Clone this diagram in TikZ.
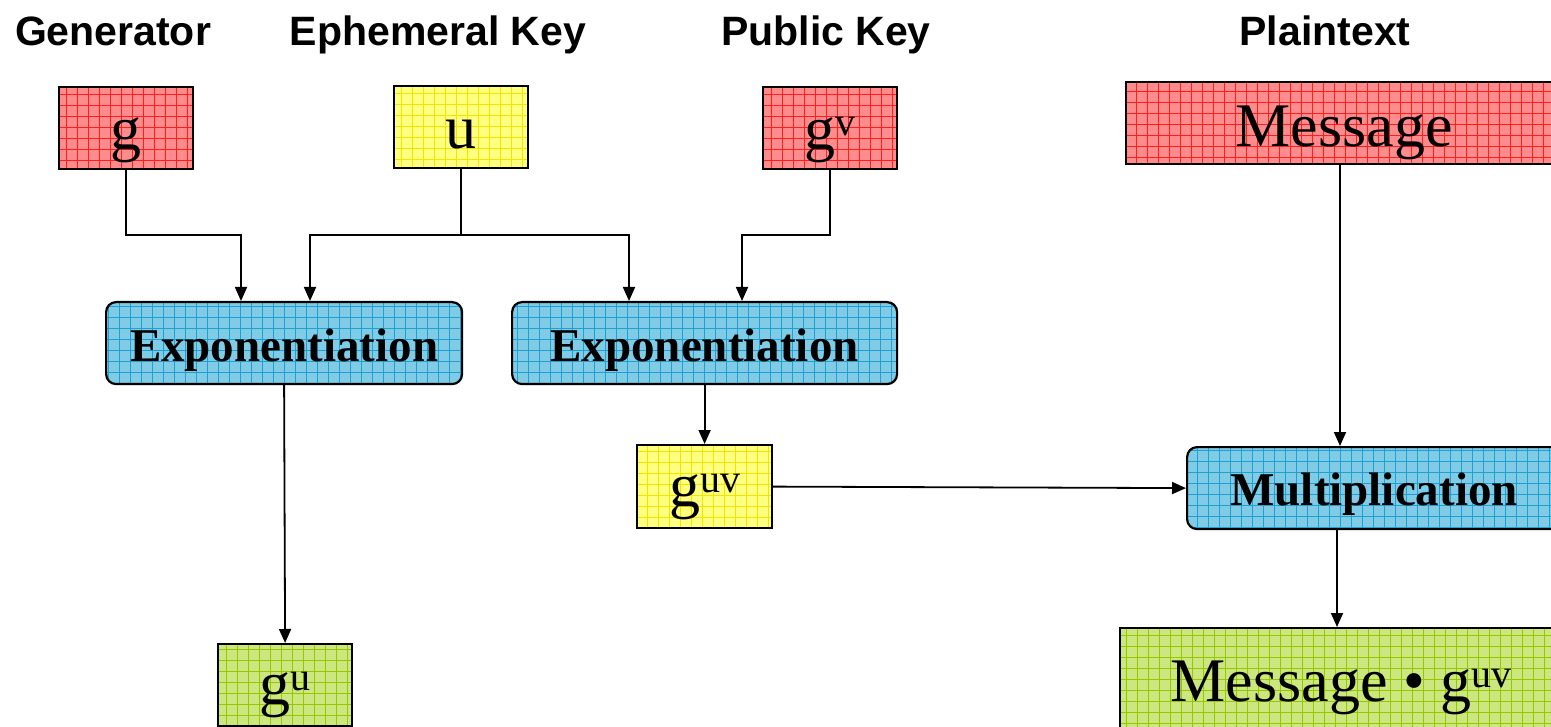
\documentclass[tikz,border=0pt]{standalone}
\usepackage{fontspec}
\setmainfont{Liberation Serif}
\newfontfamily\headfont{Liberation Sans}
\usetikzlibrary{arrows.meta}

% box colours: fill and grid lines
\definecolor{redfill}{RGB}{255,140,140}
\definecolor{redgrid}{RGB}{255,30,30}
\definecolor{yelfill}{RGB}{255,255,128}
\definecolor{yelgrid}{RGB}{240,230,0}
\definecolor{bluefill}{RGB}{128,204,230}
\definecolor{bluegrid}{RGB}{30,160,210}
\definecolor{grnfill}{RGB}{204,230,128}
\definecolor{grngrid}{RGB}{150,200,0}

% raised exponent
\newcommand\upidx[1]{\raisebox{14pt}{\fontsize{40}{40}\selectfont #1}}

\tikzset{
  gridbox/.style 2 args={fill=#1,
    path picture={\draw[#2, line width=0.8pt, step=11pt]
      (path picture bounding box.south west) grid (path picture bounding box.north east);}},
  basebox/.style={draw=black, line width=2.2pt, inner sep=0pt, anchor=north west},
  bigtext/.style={font=\fontsize{62}{62}\selectfont},
  optext/.style={font=\fontsize{47}{47}\selectfont\bfseries},
  redbox/.style={basebox, bigtext, gridbox={redfill}{redgrid}},
  yelbox/.style={basebox, bigtext, gridbox={yelfill}{yelgrid}},
  grnbox/.style={basebox, bigtext, gridbox={grnfill}{grngrid}},
  opbox/.style={basebox, optext, rounded corners=10pt, gridbox={bluefill}{bluegrid}},
  head/.style={font=\headfont\fontsize{41}{41}\selectfont\bfseries, anchor=base, inner sep=0pt},
  arr/.style={draw=black, line width=1.8pt, -{Triangle[length=14pt,width=12pt]}},
  wire/.style={draw=black, line width=1.8pt}
}

\begin{document}
\begin{tikzpicture}[x=1pt, y=-1pt]
  \path[use as bounding box] (0,0) rectangle (1551,727);
  \clip (0,0) rectangle (1551,727);

  % column headings
  \node[head] (hgen) at (113,46) {Generator};
  \node[head] (heph) at (438,46) {Ephemeral Key};
  \node[head] (hpub) at (826,46) {Public Key};
  \node[head] (hpla) at (1325,46) {Plaintext};

  % inputs
  \node[redbox, minimum width=134pt, text height=62pt, text depth=20pt] (g) at (58,86) {g};
  \node[yelbox, minimum width=134pt, text height=62pt, text depth=20pt] (u) at (393,85) {u};
  \node[redbox, minimum width=134pt, text height=62pt, text depth=20pt] (gv) at (762,86) {g\upidx{v}};
  \node[redbox, minimum width=436pt, text height=64pt, text depth=18pt] (msg) at (1125,81) {Message};

  % operations
  \node[opbox, minimum width=356pt, text height=59pt, text depth=23pt] (exp1) at (105,301) {Exponentiation};
  \node[opbox, minimum width=385pt, text height=59pt, text depth=23pt] (exp2) at (511,301) {Exponentiation};
  \node[opbox, minimum width=374pt, text height=58pt, text depth=24pt] (mult) at (1186,446) {Multiplication};

  % intermediate and outputs
  \node[yelbox, minimum width=135pt, text height=61pt, text depth=22pt] (guv) at (636,444) {g\upidx{uv}};
  \node[grnbox, minimum width=134pt, text height=60pt, text depth=22pt] (gu) at (217,643) {g\upidx{u}};
  \node[grnbox, minimum width=442pt, text height=73pt, text depth=40pt] (out) at (1119,627) {Message \textbullet\ g\upidx{uv}};

  % routing points
  \coordinate (bus) at (0,235);
  \coordinate (e1a) at (241,0);
  \coordinate (e1b) at (310,0);
  \coordinate (e2a) at (629,0);
  \coordinate (e2b) at (742,0);
  \coordinate (mx) at (1340,0);
  \coordinate (ox) at (1337,0);

  % connectors
  \draw[arr] (g.south) -- (g.south |- bus) -| (exp1.north -| e1a);
  \draw[wire] (u.south) -- (u.south |- bus);
  \draw[arr] (u.south |- bus) -| (exp1.north -| e1b);
  \draw[arr] (u.south |- bus) -| (exp2.north -| e2a);
  \draw[arr] (gv.south) -- (gv.south |- bus) -| (exp2.north -| e2b);
  \draw[arr] (exp1.south) -- (gu.north);
  \draw[arr] (exp2.south) -- (guv.north);
  \draw[arr] (guv.east) -- (mult.west);
  \draw[arr] (msg.south -| mx) -- (mult.north -| mx);
  \draw[arr] (mult.south -| ox) -- (out.north -| ox);
\end{tikzpicture}
\end{document}
